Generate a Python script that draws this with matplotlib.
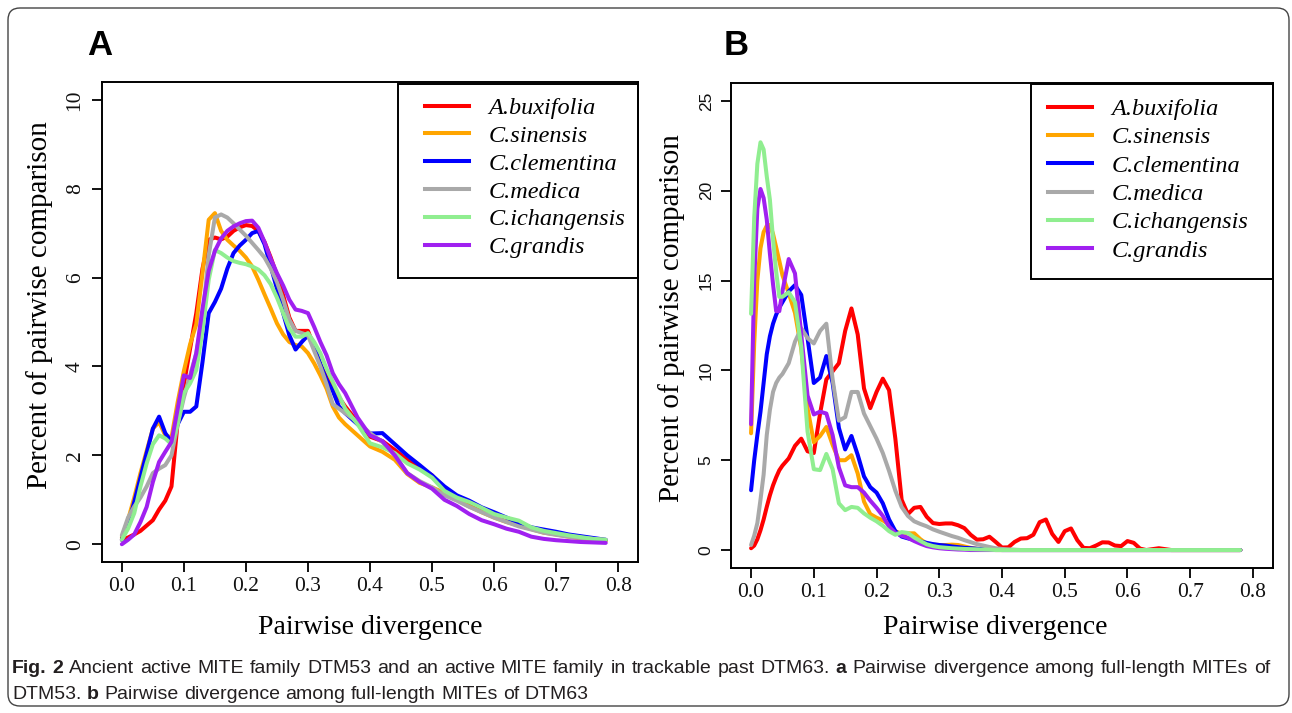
import numpy as np
import matplotlib.pyplot as plt
from matplotlib.patches import FancyBboxPatch, Rectangle
from matplotlib.lines import Line2D
from matplotlib.transforms import IdentityTransform
from matplotlib import font_manager

W, H = 1292, 713

species = ["A.buxifolia", "C.sinensis", "C.clementina", "C.medica", "C.ichangensis", "C.grandis"]
colors = ["#FF0000", "#FFA500", "#0000FF", "#A9A9A9", "#90EE90", "#A020F0"]

# ---- panel A: DTM53, pairwise divergence vs percent of comparisons
div_a = [0.00, 0.01, 0.02, 0.03, 0.04, 0.05, 0.06, 0.07, 0.08, 0.09,
         0.10, 0.11, 0.12, 0.13, 0.14, 0.15, 0.16, 0.17, 0.18, 0.19,
         0.20, 0.21, 0.22, 0.23, 0.24, 0.25, 0.26, 0.27, 0.28, 0.29,
         0.30, 0.31, 0.32, 0.33, 0.34, 0.35, 0.36, 0.38, 0.40, 0.42,
         0.44, 0.46, 0.48, 0.50, 0.52, 0.54, 0.56, 0.58, 0.60, 0.62,
         0.64, 0.66, 0.68, 0.70, 0.72, 0.74, 0.76, 0.78]
a_buxifolia = [0.10, 0.15, 0.22, 0.30, 0.42, 0.54, 0.78, 0.98, 1.30, 2.75,
               3.60, 4.40, 5.20, 6.20, 6.85, 6.90, 6.86, 6.92, 7.05, 7.13,
               7.18, 7.16, 7.05, 6.80, 6.45, 6.05, 5.60, 5.10, 4.80, 4.80,
               4.80, 4.44, 4.05, 3.75, 3.50, 3.30, 3.10, 2.75, 2.42, 2.32,
               2.12, 1.90, 1.72, 1.55, 1.22, 1.06, 0.92, 0.76, 0.66, 0.55,
               0.46, 0.37, 0.30, 0.24, 0.20, 0.15, 0.12, 0.09]
a_sinensis = [0.15, 0.55, 1.05, 1.60, 2.10, 2.60, 2.75, 2.45, 2.40, 3.20,
              3.90, 4.50, 4.95, 6.10, 7.30, 7.45, 7.05, 6.85, 6.72, 6.60,
              6.45, 6.25, 5.95, 5.62, 5.30, 4.97, 4.72, 4.55, 4.48, 4.45,
              4.30, 4.07, 3.80, 3.50, 3.10, 2.85, 2.70, 2.45, 2.20, 2.08,
              1.90, 1.58, 1.38, 1.28, 1.15, 1.00, 0.85, 0.72, 0.60, 0.50,
              0.42, 0.34, 0.26, 0.22, 0.17, 0.13, 0.10, 0.08]
a_clementina = [0.10, 0.45, 0.95, 1.50, 2.05, 2.60, 2.87, 2.50, 2.30, 2.70,
                2.98, 2.98, 3.10, 4.10, 5.20, 5.45, 5.75, 6.20, 6.55, 6.72,
                6.85, 7.00, 7.05, 6.75, 6.25, 5.75, 5.20, 4.70, 4.38, 4.55,
                4.70, 4.44, 4.05, 3.70, 3.45, 3.10, 2.95, 2.70, 2.49, 2.50,
                2.25, 2.00, 1.78, 1.55, 1.30, 1.10, 0.98, 0.83, 0.72, 0.60,
                0.47, 0.38, 0.33, 0.28, 0.22, 0.18, 0.14, 0.10]
a_medica = [0.20, 0.60, 0.85, 1.05, 1.30, 1.60, 1.70, 1.78, 2.00, 2.70,
            3.30, 3.80, 4.30, 5.10, 6.50, 7.35, 7.42, 7.35, 7.22, 7.08,
            6.94, 6.78, 6.62, 6.45, 6.20, 5.90, 5.50, 5.05, 4.80, 4.75,
            4.70, 4.35, 4.00, 3.60, 3.15, 3.05, 2.95, 2.75, 2.50, 2.30,
            2.00, 1.60, 1.42, 1.28, 1.10, 0.98, 0.84, 0.72, 0.60, 0.50,
            0.40, 0.33, 0.26, 0.21, 0.17, 0.14, 0.12, 0.10]
a_ichangensis = [0.10, 0.35, 0.70, 1.30, 1.82, 2.25, 2.45, 2.38, 2.25, 2.70,
                 3.40, 3.62, 3.92, 4.80, 5.95, 6.62, 6.55, 6.45, 6.37, 6.33,
                 6.30, 6.25, 6.18, 6.05, 5.85, 5.55, 5.20, 4.85, 4.67, 4.67,
                 4.75, 4.55, 4.30, 3.95, 3.65, 3.35, 3.05, 2.70, 2.27, 2.18,
                 2.05, 1.82, 1.68, 1.50, 1.20, 1.05, 0.95, 0.82, 0.68, 0.60,
                 0.53, 0.38, 0.30, 0.25, 0.20, 0.16, 0.12, 0.10]
a_grandis = [0.00, 0.10, 0.22, 0.50, 0.84, 1.40, 1.85, 2.08, 2.30, 3.05,
             3.80, 3.74, 4.30, 5.30, 6.15, 6.60, 6.88, 7.05, 7.15, 7.22,
             7.27, 7.28, 7.12, 6.80, 6.42, 6.10, 5.82, 5.50, 5.28, 5.25,
             5.20, 4.89, 4.55, 4.25, 3.85, 3.60, 3.40, 2.85, 2.45, 2.32,
             2.00, 1.60, 1.40, 1.25, 1.00, 0.86, 0.68, 0.54, 0.45, 0.35,
             0.28, 0.17, 0.12, 0.09, 0.07, 0.05, 0.04, 0.03]

# ---- panel B: DTM63
div_b = [0.000, 0.005, 0.010, 0.015, 0.020, 0.025, 0.030, 0.035, 0.040, 0.045,
         0.05, 0.06, 0.07, 0.08, 0.09, 0.10, 0.11, 0.12, 0.13, 0.14,
         0.15, 0.16, 0.17, 0.18, 0.19, 0.20, 0.21, 0.22, 0.23, 0.24,
         0.25, 0.26, 0.27, 0.28, 0.29, 0.30, 0.31, 0.32, 0.33, 0.34,
         0.35, 0.36, 0.37, 0.38, 0.39, 0.40, 0.41, 0.42, 0.43, 0.44,
         0.45, 0.46, 0.47, 0.48, 0.49, 0.50, 0.51, 0.52, 0.53, 0.54,
         0.55, 0.56, 0.57, 0.58, 0.59, 0.60, 0.61, 0.62, 0.63, 0.64,
         0.65, 0.66, 0.67, 0.68, 0.69, 0.70, 0.71, 0.72, 0.73, 0.74,
         0.75, 0.76, 0.77, 0.78]
b_buxifolia = [0.10, 0.25, 0.60, 1.10, 1.70, 2.40, 3.05, 3.60, 4.05, 4.44,
               4.70, 5.10, 5.80, 6.20, 5.50, 5.40, 7.60, 9.50, 9.95, 10.40,
               12.20, 13.45, 12.00, 9.00, 7.90, 8.80, 9.54, 8.90, 6.20, 2.80,
               2.00, 2.35, 2.40, 1.85, 1.50, 1.45, 1.48, 1.48, 1.38, 1.22,
               0.85, 0.58, 0.60, 0.74, 0.45, 0.14, 0.15, 0.45, 0.64, 0.66,
               0.85, 1.55, 1.70, 0.90, 0.45, 1.05, 1.20, 0.55, 0.12, 0.10,
               0.25, 0.43, 0.42, 0.25, 0.22, 0.50, 0.40, 0.08, 0.00, 0.05,
               0.10, 0.05, 0.00, 0.00, 0.00, 0.00, 0.00, 0.00, 0.00, 0.00,
               0.00, 0.00, 0.00, 0.00]
b_sinensis = [6.50, 11.50, 15.00, 16.80, 17.70, 18.05, 18.10, 17.60, 16.85, 16.10,
              15.30, 14.30, 13.20, 11.20, 7.90, 6.00, 6.35, 6.85, 5.85, 5.00,
              5.00, 5.28, 4.26, 2.70, 2.00, 1.80, 1.65, 1.42, 1.05, 0.90,
              0.93, 0.93, 0.60, 0.35, 0.30, 0.28, 0.28, 0.30, 0.28, 0.20,
              0.12, 0.07, 0.04, 0.02, 0.00, 0.00, 0.00, 0.00, 0.00, 0.00,
              0.00, 0.00, 0.00, 0.00, 0.00, 0.00, 0.00, 0.00, 0.00, 0.00,
              0.00, 0.00, 0.00, 0.00, 0.00, 0.00, 0.00, 0.00, 0.00, 0.00,
              0.00, 0.00, 0.00, 0.00, 0.00, 0.00, 0.00, 0.00, 0.00, 0.00,
              0.00, 0.00, 0.00, 0.00]
b_clementina = [3.33, 5.00, 6.40, 7.70, 9.30, 10.90, 11.90, 12.60, 13.10, 13.50,
                13.80, 14.40, 14.75, 14.20, 11.80, 9.30, 9.60, 10.80, 9.30, 6.80,
                5.60, 6.35, 5.30, 4.10, 3.50, 3.20, 2.60, 1.70, 1.05, 0.75,
                0.65, 0.56, 0.48, 0.40, 0.33, 0.28, 0.25, 0.20, 0.16, 0.12,
                0.10, 0.07, 0.05, 0.03, 0.02, 0.00, 0.00, 0.00, 0.00, 0.00,
                0.00, 0.00, 0.00, 0.00, 0.00, 0.00, 0.00, 0.00, 0.00, 0.00,
                0.00, 0.00, 0.00, 0.00, 0.00, 0.00, 0.00, 0.00, 0.00, 0.00,
                0.00, 0.00, 0.00, 0.00, 0.00, 0.00, 0.00, 0.00, 0.00, 0.00,
                0.00, 0.00, 0.00, 0.00]
b_medica = [0.28, 0.80, 1.50, 2.80, 4.20, 6.40, 7.80, 8.80, 9.30, 9.60,
            9.80, 10.40, 11.60, 12.35, 11.80, 11.50, 12.20, 12.60, 9.50, 7.20,
            7.40, 8.80, 8.80, 7.60, 6.90, 6.20, 5.40, 4.40, 3.30, 2.40,
            1.90, 1.60, 1.45, 1.32, 1.15, 1.02, 0.90, 0.78, 0.68, 0.55,
            0.44, 0.33, 0.25, 0.17, 0.10, 0.06, 0.04, 0.02, 0.00, 0.00,
            0.00, 0.00, 0.00, 0.00, 0.00, 0.00, 0.00, 0.00, 0.00, 0.00,
            0.00, 0.00, 0.00, 0.00, 0.00, 0.00, 0.00, 0.00, 0.00, 0.00,
            0.00, 0.00, 0.00, 0.00, 0.00, 0.00, 0.00, 0.00, 0.00, 0.00,
            0.00, 0.00, 0.00, 0.00]
b_ichangensis = [13.15, 18.50, 21.50, 22.70, 22.30, 20.80, 19.50, 17.30, 15.50, 14.10,
                 14.10, 14.35, 13.80, 11.30, 6.60, 4.50, 4.45, 5.35, 4.50, 2.60,
                 2.22, 2.40, 2.35, 2.04, 1.80, 1.60, 1.35, 1.05, 0.85, 1.00,
                 0.95, 0.70, 0.50, 0.32, 0.22, 0.16, 0.13, 0.10, 0.08, 0.06,
                 0.05, 0.04, 0.03, 0.02, 0.00, 0.00, 0.00, 0.00, 0.00, 0.00,
                 0.00, 0.00, 0.00, 0.00, 0.00, 0.00, 0.00, 0.00, 0.00, 0.00,
                 0.00, 0.00, 0.00, 0.00, 0.00, 0.00, 0.00, 0.00, 0.00, 0.00,
                 0.00, 0.00, 0.00, 0.00, 0.00, 0.00, 0.00, 0.00, 0.00, 0.00,
                 0.00, 0.00, 0.00, 0.00]
b_grandis = [7.00, 15.00, 19.00, 20.10, 19.60, 18.40, 16.50, 14.80, 13.30, 13.30,
             14.40, 16.20, 15.40, 12.00, 8.60, 7.55, 7.70, 7.60, 6.40, 4.60,
             3.60, 3.50, 3.50, 3.20, 2.75, 2.35, 1.90, 1.30, 0.95, 0.80,
             0.68, 0.50, 0.35, 0.22, 0.15, 0.10, 0.07, 0.05, 0.03, 0.02,
             0.00, 0.00, 0.00, 0.00, 0.00, 0.00, 0.00, 0.00, 0.00, 0.00,
             0.00, 0.00, 0.00, 0.00, 0.00, 0.00, 0.00, 0.00, 0.00, 0.00,
             0.00, 0.00, 0.00, 0.00, 0.00, 0.00, 0.00, 0.00, 0.00, 0.00,
             0.00, 0.00, 0.00, 0.00, 0.00, 0.00, 0.00, 0.00, 0.00, 0.00,
             0.00, 0.00, 0.00, 0.00]

series_a = [a_buxifolia, a_sinensis, a_clementina, a_medica, a_ichangensis, a_grandis]
series_b = [b_buxifolia, b_sinensis, b_clementina, b_medica, b_ichangensis, b_grandis]

x_ticks = [0.0, 0.1, 0.2, 0.3, 0.4, 0.5, 0.6, 0.7, 0.8]
y_ticks_a = [0, 2, 4, 6, 8, 10]
y_ticks_b = [0, 5, 10, 15, 20, 25]

caption1 = [("Fig. 2", True), ("Ancient active MITE family DTM53 and an active MITE family in trackable past DTM63.", False),
            ("a", True), ("Pairwise divergence among full-length MITEs of", False)]
caption2 = [("DTM53.", False), ("b", True), ("Pairwise divergence among full-length MITEs of DTM63", False)]

LW = 2.9
SERIF = "Liberation Serif"

fig = plt.figure(figsize=(W / 100, H / 100), dpi=100)


def px_axes(l, t, r, b):
    return fig.add_axes([l / W, 1 - b / H, (r - l) / W, (b - t) / H])


def style_axes(ax, ymax, yticks, yfont, ysize):
    ax.set_xlim(-0.032, 0.832)
    ax.set_ylim(-0.04 * ymax, 1.04 * ymax)
    ax.set_xticks(x_ticks)
    ax.set_xticklabels([f"{t:.1f}" for t in x_ticks], fontfamily=SERIF, fontsize=15.5)
    ax.set_yticks(yticks)
    ax.set_yticklabels([str(t) for t in yticks], fontfamily=yfont, fontsize=ysize,
                       rotation=90, va="center")
    for s in ax.spines.values():
        s.set_linewidth(1.4)
    ax.tick_params(direction="out", length=7.5, width=1.4, colors="#111111")
    ax.tick_params(axis="x", pad=3)
    ax.tick_params(axis="y", pad=5)


def legend_box(ax, l, t, r, b, hx, hy, fs, spacing):
    fig.add_artist(Rectangle((l, H - b), r - l, b - t, transform=IdentityTransform(),
                             fill=False, lw=1.4, ec="black"))
    handles = [Line2D([], [], color=c, lw=LW) for c in colors]
    ax.legend(handles, species, loc="upper left", bbox_to_anchor=(hx, H - hy),
              bbox_transform=IdentityTransform(), frameon=False, borderpad=0,
              borderaxespad=0, handlelength=1.8, handletextpad=0.8,
              labelspacing=spacing, prop=dict(family=SERIF, style="italic", size=fs))


# panel A
ax_a = px_axes(102, 82, 638, 562)
for i in [0, 1, 2, 3, 4, 5]:
    ax_a.plot(div_a, series_a[i], color=colors[i], lw=LW, solid_capstyle="round")
style_axes(ax_a, 10, y_ticks_a, SERIF, 15.5)
legend_box(ax_a, 398, 84, 638, 278, 425, 97, 17.5, 0.24)

# panel B (green drawn last)
ax_b = px_axes(731, 83, 1273, 568)
for i in [0, 1, 2, 3, 5, 4]:
    ax_b.plot(div_b, series_b[i], color=colors[i], lw=LW, solid_capstyle="round")
style_axes(ax_b, 25, y_ticks_b, "Liberation Sans", 12.5)
legend_box(ax_b, 1031, 84, 1273, 279, 1048, 98, 17.5, 0.26)

# axis titles and panel letters
for cx, cy in [(370, 627), (995, 627)]:
    fig.text(cx / W, 1 - cy / H, "Pairwise divergence", family=SERIF, fontsize=20,
             ha="center", va="center")
for cx, cy in [(40, 305), (672, 318)]:
    fig.text(cx / W, 1 - cy / H, "Percent of pairwise comparison", family=SERIF,
             fontsize=21, rotation=90, ha="center", va="center")
fig.text(87 / W, 1 - 55 / H, "A", family="Liberation Sans", weight="bold", fontsize=25,
         va="baseline")
fig.text(724 / W, 1 - 55 / H, "B", family="Liberation Sans", weight="bold", fontsize=25,
         va="baseline")

# rounded border around the figure
fig.add_artist(FancyBboxPatch((8, H - 706), 1281, 698, boxstyle="round,pad=0,rounding_size=12",
                              transform=IdentityTransform(), fill=False, lw=1.0, ec="#444444"))

# caption (first line justified)
try:
    font_manager.findfont("Liberation Sans Narrow", fallback_to_default=False)
    cap_family = "Liberation Sans Narrow"
except Exception:
    cap_family = "Liberation Sans"

renderer = fig.canvas.get_renderer()


def caption_words(parts):
    words = []
    for text, bold in parts:
        for w in text.split(" "):
            words.append((w, bold))
    return words


def make_words(words, fs):
    objs = []
    for w, bold in words:
        t = fig.text(0, 0, w, family=cap_family, fontsize=fs, color="#231f20",
                     weight="bold" if bold else "normal", transform=IdentityTransform(),
                     va="baseline")
        objs.append(t)
    widths = [t.get_window_extent(renderer).width for t in objs]
    return objs, widths


words1 = caption_words(caption1)
words2 = caption_words(caption2)
cap_fs = 14
probe, pw = make_words(words1, cap_fs)
natural = sum(pw) + 0.28 * cap_fs * 100 / 72 * (len(pw) - 1)
for t in probe:
    t.remove()
if natural > 1250:
    cap_fs = cap_fs * 1235 / natural

space = 0.28 * cap_fs * 100 / 72
objs1, w1 = make_words(words1, cap_fs)
gap = (1270 - 12 - sum(w1)) / (len(w1) - 1)
x = 12
for t, w in zip(objs1, w1):
    t.set_position((x, H - 673))
    x += w + gap
objs2, w2 = make_words(words2, cap_fs)
x = 12
for t, w in zip(objs2, w2):
    t.set_position((x, H - 699))
    x += w + space

fig.savefig("out.png", dpi=100)
